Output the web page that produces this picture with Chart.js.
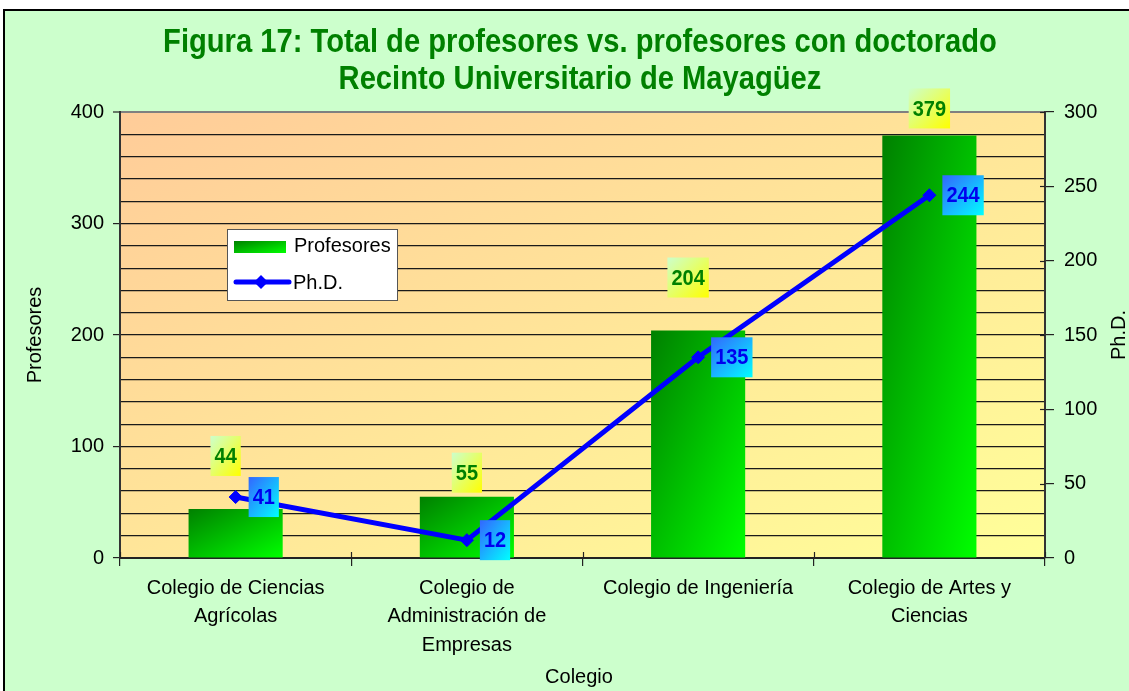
<!DOCTYPE html>
<html><head><meta charset="utf-8">
<script src="https://cdn.jsdelivr.net/npm/chart.js@4.4.1/dist/chart.umd.min.js"></script>
<style>html,body{margin:0;padding:0;background:#fff;} canvas{display:block;}</style>
</head><body>
<canvas id="c" width="1129" height="691" style="width:1129px;height:691px"></canvas>
<script>
const categories = [["Colegio de Ciencias","Agrícolas"],["Colegio de","Administración de","Empresas"],["Colegio de Ingeniería"],["Colegio de Artes y","Ciencias"]];
const profesores = [44, 55, 204, 379];
const phd = [41, 12, 135, 244];
const titleLines = ["Figura 17: Total de profesores vs. profesores con doctorado", "Recinto Universitario de Mayagüez"];
const seriesNames = ["Profesores", "Ph.D."];
const xTitle = "Colegio";
const yTitle = "Profesores";
const y2Title = "Ph.D.";

const FONT = "'Liberation Sans', Arial, sans-serif";
const BAR_PCT = 0.407;
// manual label nudges (dx, dy of box bottom relative to bar top)
const profLabelNudge = [[-10,-33],[0,-4],[-10,-33],[0,-7]];

function diagGrad(ctx, x, y, w, h, c0, c1) {
  const k = 2 * w * h / (w * w + h * h);
  const g = ctx.createLinearGradient(x, y, x + h * k, y + w * k);
  g.addColorStop(0, c0); g.addColorStop(1, c1);
  return g;
}

function stretchText(ctx, txt, x, y, sy) {
  ctx.save(); ctx.translate(x, y); ctx.scale(1, sy); ctx.fillText(txt, 0, 0); ctx.restore();
}

const bgPlugin = {
  id: 'bg',
  beforeDraw(chart) {
    const ctx = chart.ctx, a = chart.chartArea;
    ctx.save();
    ctx.fillStyle = '#ffffff';
    ctx.fillRect(0, 0, chart.width, chart.height);
    ctx.fillStyle = '#CCFFCC';
    ctx.fillRect(4, 10, chart.width, chart.height);
    ctx.strokeStyle = '#000'; ctx.lineWidth = 2;
    ctx.strokeRect(4, 10, chart.width + 10, chart.height + 10);
    ctx.fillStyle = diagGrad(ctx, a.left, a.top, a.right - a.left, a.bottom - a.top, '#FFCC99', '#FFFF99');
    ctx.fillRect(a.left, a.top, a.right - a.left, a.bottom - a.top);
    ctx.restore();
  },
  afterDraw(chart) {
    const ctx = chart.ctx, a = chart.chartArea;
    ctx.save();
    // inner tick parts
    ctx.strokeStyle = '#222'; ctx.lineWidth = 1.2;
    const y2 = chart.scales.y2;
    for (let v = 0; v <= 300; v += 50) {
      const py = Math.round(y2.getPixelForValue(v)) + 0.5;
      ctx.beginPath(); ctx.moveTo(a.right - 5, py); ctx.lineTo(a.right, py); ctx.stroke();
    }
    const step = (a.right - a.left) / categories.length;
    for (let i = 0; i <= categories.length; i++) {
      const px = Math.round(a.left + i * step) + 0.5;
      ctx.beginPath(); ctx.moveTo(px, a.bottom - 6); ctx.lineTo(px, a.bottom); ctx.stroke();
    }
    // title
    ctx.fillStyle = '#008000';
    let fs = 27;
    ctx.font = `bold ${fs}px ${FONT}`;
    const w1 = ctx.measureText(titleLines[0]).width;
    fs = fs * 834 / w1;
    ctx.font = `bold ${fs.toFixed(2)}px ${FONT}`;
    ctx.textAlign = 'center'; ctx.textBaseline = 'middle';
    stretchText(ctx, titleLines[0], 580, 43, 1.15);
    stretchText(ctx, titleLines[1], 580, 80, 1.15);
    // axis titles
    ctx.fillStyle = '#000';
    ctx.font = `20px ${FONT}`;
    ctx.fillText(xTitle, 579, 677);
    ctx.save(); ctx.translate(35, 335); ctx.rotate(-Math.PI / 2); ctx.fillText(yTitle, 0, 0); ctx.restore();
    ctx.save(); ctx.translate(1119, 335); ctx.rotate(-Math.PI / 2); ctx.fillText(y2Title, 0, 0); ctx.restore();
    // legend
    ctx.fillStyle = '#fff';
    ctx.fillRect(227, 229, 170, 71);
    ctx.strokeStyle = '#555'; ctx.lineWidth = 1;
    ctx.strokeRect(227.5, 229.5, 170, 71);
    ctx.fillStyle = diagGrad(ctx, 234, 241, 52, 12, '#008000', '#00FF00');
    ctx.fillRect(234, 241, 52, 12);
    ctx.strokeStyle = '#0000FF'; ctx.lineWidth = 5; ctx.lineCap = 'round';
    ctx.beginPath(); ctx.moveTo(236, 282); ctx.lineTo(289, 282); ctx.stroke();
    ctx.fillStyle = '#0000FF';
    ctx.beginPath(); ctx.moveTo(261, 275); ctx.lineTo(268, 282); ctx.lineTo(261, 289); ctx.lineTo(254, 282); ctx.closePath(); ctx.fill();
    ctx.fillStyle = '#000'; ctx.textAlign = 'left';
    ctx.font = `20px ${FONT}`;
    ctx.fillText(seriesNames[0], 294, 246);
    ctx.fillText(seriesNames[1], 293, 283);
    ctx.restore();
  },
  afterDatasetsDraw(chart) {
    const ctx = chart.ctx;
    ctx.save();
    ctx.font = `bold 20px ${FONT}`;
    ctx.textAlign = 'center'; ctx.textBaseline = 'middle';
    const mb = chart.getDatasetMeta(1);
    mb.data.forEach((el, i) => {
      const txt = String(profesores[i]);
      const tw = ctx.measureText(txt).width + 8;
      const h = 40;
      const cx = el.x + profLabelNudge[i][0];
      const bottom = el.y + profLabelNudge[i][1];
      const x0 = cx - tw / 2, y0 = bottom - h;
      ctx.fillStyle = diagGrad(ctx, x0, y0, tw, h, '#CCFFCC', '#FFFF00');
      ctx.fillRect(x0, y0, tw, h);
      ctx.fillStyle = '#008000';
      stretchText(ctx, txt, cx, y0 + h / 2 + 1, 1.12);
    });
    const ml = chart.getDatasetMeta(0);
    ml.data.forEach((el, i) => {
      const txt = String(phd[i]);
      const tw = ctx.measureText(txt).width + 8;
      const h = 40;
      const x0 = el.x + 13, y0 = el.y - h / 2;
      ctx.fillStyle = diagGrad(ctx, x0, y0, tw, h, '#3366FF', '#00FFFF');
      ctx.fillRect(x0, y0, tw, h);
      ctx.fillStyle = '#0000EE';
      stretchText(ctx, txt, x0 + tw / 2, y0 + h / 2 + 1, 1.12);
    });
    ctx.restore();
  }
};

new Chart(document.getElementById('c'), {
  data: {
    labels: categories,
    datasets: [
      {
        type: 'line', label: seriesNames[1], data: phd, yAxisID: 'y2',
        borderColor: '#0000FF', borderWidth: 5, backgroundColor: '#0000FF',
        pointStyle: 'rectRot', pointRadius: 6.5, pointBorderWidth: 1, pointBorderColor: '#0000FF',
        tension: 0, order: 0
      },
      {
        type: 'bar', label: seriesNames[0], data: profesores, yAxisID: 'y',
        barPercentage: BAR_PCT, categoryPercentage: 1.0, order: 1,
        backgroundColor: (c) => {
          const ch = c.chart;
          if (!ch.chartArea || c.type !== 'data') return '#00C000';
          const xs = ch.scales.x, ys = ch.scales.y;
          const step = (ch.chartArea.right - ch.chartArea.left) / categories.length;
          const w = step * BAR_PCT;
          const cx = xs.getPixelForValue(c.dataIndex);
          const top = ys.getPixelForValue(c.raw), bot = ys.getPixelForValue(0);
          return diagGrad(ch.ctx, cx - w / 2, top, w, Math.max(1, bot - top), '#008000', '#00FF00');
        }
      }
    ]
  },
  options: {
    responsive: false, animation: false, devicePixelRatio: 1,
    layout: { padding: { top: 112, left: 0, right: 0, bottom: 0 } },
    plugins: { legend: { display: false }, title: { display: false }, tooltip: { enabled: false } },
    scales: {
      x: {
        type: 'category', offset: true,
        grid: { offset: true, drawOnChartArea: false, tickLength: 8, color: '#222', lineWidth: 1.2 },
        border: { display: true, color: '#222', width: 2 },
        ticks: { color: '#000', font: { family: FONT, size: 20, lineHeight: 1.42 }, padding: 8, maxRotation: 0, autoSkip: false },
        afterFit(s) { s.height = 133; }
      },
      y: {
        position: 'left', min: 0, max: 400,
        ticks: { stepSize: 20, autoSkip: false, color: '#000', padding: 9, font: { family: FONT, size: 20 },
          callback: (v) => (v % 100 === 0 ? String(v) : '') },
        grid: {
          drawOnChartArea: true, tickLength: 7,
          color: (c) => (c.tick && c.tick.value === 400 ? '#808080' : '#1a1a1a'),
          lineWidth: (c) => (c.tick && c.tick.value === 400 ? 2 : 1.2),
          tickColor: (c) => (c.tick && c.tick.value % 100 === 0 ? '#222' : 'rgba(0,0,0,0)'),
          tickWidth: 1.2
        },
        border: { display: true, color: '#333', width: 2 },
        afterFit(s) { s.width = 120; }
      },
      y2: {
        position: 'right', min: 0, max: 300,
        ticks: { stepSize: 50, autoSkip: false, color: '#000', padding: 10, font: { family: FONT, size: 20 } },
        grid: { drawOnChartArea: false, tickLength: 9, color: '#222', lineWidth: 1.2 },
        border: { display: true, color: '#333', width: 2 },
        afterFit(s) { s.width = 84; }
      }
    }
  },
  plugins: [bgPlugin]
});
</script>
</body></html>
